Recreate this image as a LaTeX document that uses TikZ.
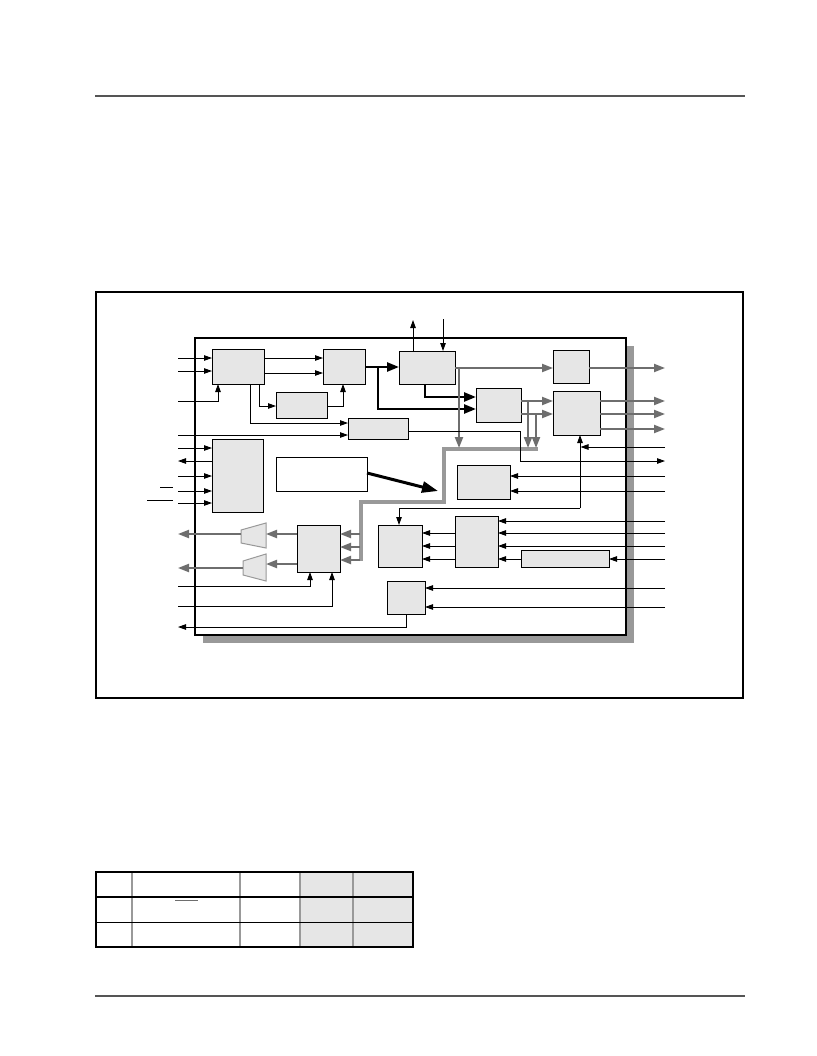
\documentclass[tikz,border=0pt]{standalone}
\usetikzlibrary{arrows.meta}
\definecolor{gblk}{HTML}{E6E6E6}
\definecolor{gwire}{HTML}{6E6E6E}
\definecolor{gbus}{HTML}{999999}
\definecolor{grule}{HTML}{555555}
\begin{document}
\begin{tikzpicture}[x=1pt,y=-1pt,
  blk/.style={draw=black, line width=0.9pt, fill=gblk, inner sep=0pt, outer sep=0pt, anchor=north west},
  wbox/.style={blk, fill=white},
  wire/.style={line width=0.9pt},
  arr/.style={wire, -{Triangle[length=8pt,width=5.5pt]}},
  garr/.style={draw=gwire, line width=2pt, -{Triangle[length=11pt,width=8pt]}},
  gline/.style={draw=gwire, line width=2pt},
  tarr/.style={line width=2.5pt, -{Triangle[length=12pt,width=9pt]}},
  tline/.style={line width=2.5pt},
  bus/.style={draw=gbus, line width=3.5pt},
  trap/.style={draw=gbus, line width=1pt, fill=gblk}]
\useasboundingbox (0,0) rectangle (816,1056);
% page rules
\draw[grule, line width=2pt] (95,96) -- (745,96);
\draw[grule, line width=2pt] (95,996) -- (745,996);
% outer frame
\draw[line width=2.5pt] (96,292) rectangle (743,698);
% chip box with shadow
\fill[gbus] (203,346) rectangle (634,643);
\draw[fill=white, line width=1.2pt] (195,338) rectangle (626,635);
% blocks
\node[blk, minimum width=52pt, minimum height=35pt] (A) at (212,349) {};
\node[blk, minimum width=42pt, minimum height=35pt] (B) at (323,349) {};
\node[blk, minimum width=56pt, minimum height=33pt] (C) at (399,351) {};
\node[blk, minimum width=51pt, minimum height=26pt] (D) at (276,392) {};
\node[blk, minimum width=60pt, minimum height=21pt] (E) at (348,418) {};
\node[blk, minimum width=51pt, minimum height=73pt] (F) at (212,439) {};
\node[wbox, minimum width=91pt, minimum height=34pt] (G) at (276,457) {};
\node[blk, minimum width=36pt, minimum height=33pt] (H) at (553,350) {};
\node[blk, minimum width=45pt, minimum height=34pt] (I) at (476,388) {};
\node[blk, minimum width=47pt, minimum height=44pt] (J) at (553,391) {};
\node[blk, minimum width=53pt, minimum height=34pt] (K) at (457,465) {};
\node[blk, minimum width=44pt, minimum height=42pt] (L) at (378,525) {};
\node[blk, minimum width=43pt, minimum height=51pt] (M) at (455,516) {};
\node[blk, minimum width=88pt, minimum height=17pt] (N) at (521,550) {};
\node[blk, minimum width=38pt, minimum height=33pt] (O) at (387,581) {};
\node[blk, minimum width=43pt, minimum height=47pt] (P) at (297,525) {};
% trapezoids
\draw[trap] (241,530) -- (266,523) -- (266,548) -- (241,543) -- cycle;
\draw[trap] (243,561) -- (266,554) -- (266,581) -- (243,575) -- cycle;
\coordinate (t1r) at (266,534); \coordinate (t1l) at (241,534);
\coordinate (t2r) at (266,564); \coordinate (t2l) at (243,568);
% bus
\draw[bus, line join=miter] (361,561) -- (361,502) -- (444,502) -- (444,449) -- (538,449);
% left inputs to A
\draw[arr] (178,358) -- (A.west |- 0,358);
\draw[arr] (178,371) -- (A.west |- 0,371);
\draw[arr] (178,401) -| (218,0 |- A.south);
% A to B
\draw[arr] (A.east |- 0,358) -- (B.west |- 0,358);
\draw[arr] (A.east |- 0,373) -- (B.west |- 0,373);
% A to E, A to D, D to B
\draw[arr] (250,0 |- A.south) |- (E.west |- 0,423);
\draw[arr] (259,0 |- A.south) |- (D.west |- 0,406);
\draw[arr] (D.east |- 0,406) -| (343,0 |- B.south);
\draw[arr] (178,435) -- (E.west |- 0,435);
% thick B->C, B->I, C->I
\draw[tarr] (B.east |- 0,367) -- (C.west |- 0,367);
\draw[tarr] (378,367) |- (I.west |- 0,409);
\draw[tarr] (425,0 |- C.south) |- (I.west |- 0,397);
% C top
\draw[arr] (413,0 |- C.north) -- (413,320);
\draw[arr] (443,319) -- (443,0 |- C.north);
% gray C->H and down to bus
\draw[garr] (C.east |- 0,368) -- (H.west |- 0,368);
\draw[garr] (459,368) -- (459,448);
\draw[garr] (H.east |- 0,368) -- (665,368);
% I->J and down to bus
\draw[garr] (I.east |- 0,401) -- (J.west |- 0,401);
\draw[garr] (I.east |- 0,414) -- (J.west |- 0,414);
\draw[garr] (528,401) -- (528,448);
\draw[garr] (536,414) -- (536,448);
% J outputs
\draw[garr] (J.east |- 0,401) -- (665,401);
\draw[garr] (J.east |- 0,414) -- (665,414);
\draw[garr] (J.east |- 0,429) -- (665,429);
% bus to P
\draw[garr] (360,534) -- (P.east |- 0,534);
\draw[garr] (360,547) -- (P.east |- 0,547);
\draw[garr] (360,560) -- (P.east |- 0,560);
% P to trapezoids to outside
\draw[garr] (P.west |- 0,534) -- (t1r);
\draw[garr] (t1l) -- (178,534);
\draw[garr] (P.west |- 0,564) -- (t2r);
\draw[garr] (t2l) -- (178,568);
% P bottom inputs
\draw[arr] (178,586) -| (310,0 |- P.south);
\draw[arr] (178,606) -| (332,0 |- P.south);
% O
\draw[arr] (406,0 |- O.south) |- (178,627);
\draw[arr] (665,588) -- (O.east |- 0,588);
\draw[arr] (665,607) -- (O.east |- 0,607);
% M, N, L
\draw[arr] (665,521) -- (M.east |- 0,521);
\draw[arr] (665,533) -- (M.east |- 0,533);
\draw[arr] (665,546) -- (M.east |- 0,546);
\draw[arr] (665,559) -- (N.east |- 0,559);
\draw[arr] (N.west |- 0,559) -- (M.east |- 0,559);
\draw[arr] (M.west |- 0,533) -- (L.east |- 0,533);
\draw[arr] (M.west |- 0,546) -- (L.east |- 0,546);
\draw[arr] (M.west |- 0,559) -- (L.east |- 0,559);
% J bottom / L top
\draw[arr] (665,447) -- (580.5,447);
\draw[arr] (580,508) -- (580,0 |- J.south);
\draw[arr] (580,508) -| (399,0 |- L.north);
% E output
\draw[arr] (E.east |- 0,431) -| (520,461) -- (665,461);
% K inputs
\draw[arr] (665,476) -- (K.east |- 0,476);
\draw[arr] (665,491) -- (K.east |- 0,491);
% F
\draw[arr] (178,448) -- (F.west |- 0,448);
\draw[arr] (F.west |- 0,461) -- (178,461);
\draw[arr] (178,476) -- (F.west |- 0,476);
\draw[arr] (178,491) -- (F.west |- 0,491);
\draw[arr] (178,503) -- (F.west |- 0,503);
\draw[wire] (160,487) -- (173,487);
\draw[wire] (147,500) -- (173,500);
% G big arrow
\draw[line width=3pt, -{Triangle[length=16pt,width=11pt]}] (G.east |- 0,473) -- (438,491);
% table
\fill[gblk] (300,872) rectangle (413,947);
\foreach \xx in {132,240,300,353} \draw[gbus, line width=1.5pt] (\xx,872) -- (\xx,947);
\draw[line width=1pt] (96,922) -- (413,922);
\draw[line width=2.5pt] (96,897) -- (413,897);
\draw[line width=2.5pt] (96,872) rectangle (413,947);
\draw[gwire, line width=1pt] (175,900) -- (198,900);
\end{tikzpicture}
\end{document}
